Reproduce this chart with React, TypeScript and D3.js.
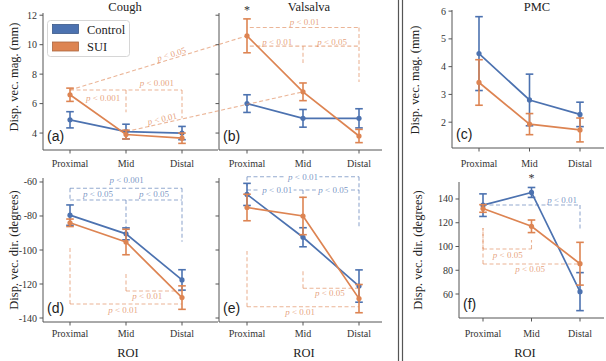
import React, { useEffect, useRef } from 'react';
import * as d3 from 'd3';

const rois = ['Proximal', 'Mid', 'Distal'];

// displacement vector magnitude (mm): mean and error per ROI
const coughMagControl = [4.9, 4.1, 4.0];
const coughMagControlErr = [0.55, 0.5, 0.45];
const coughMagSUI = [6.6, 3.9, 3.65];
const coughMagSUIErr = [0.45, 0.3, 0.35];
const valsalvaMagControl = [6.0, 5.0, 5.0];
const valsalvaMagControlErr = [0.6, 0.6, 0.65];
const valsalvaMagSUI = [10.6, 6.8, 3.8];
const valsalvaMagSUIErr = [1.15, 0.6, 0.45];
const pmcMagControl = [4.47, 2.8, 2.28];
const pmcMagControlErr = [1.33, 0.93, 0.44];
const pmcMagSUI = [3.43, 1.93, 1.72];
const pmcMagSUIErr = [0.82, 0.38, 0.43];

// displacement vector direction (degrees)
const coughDirControl = [-79.5, -90.5, -117.6];
const coughDirControlErr = [6, 3.5, 6];
const coughDirSUI = [-84, -95.3, -128];
const coughDirSUIErr = [2.2, 7.5, 6.9];
const valsalvaDirControl = [-67.3, -92.5, -121.2];
const valsalvaDirControlErr = [6.5, 5.6, 9.5];
const valsalvaDirSUI = [-75, -80, -128.6];
const valsalvaDirSUIErr = [7.8, 11, 8.3];
const pmcDirControl = [134.8, 145.5, 62];
const pmcDirControlErr = [9.5, 4.2, 16];
const pmcDirSUI = [132, 117, 85.5];
const pmcDirSUIErr = [3.2, 5.3, 18];

const magTicks = [4, 6, 8, 10, 12];
const pmcMagTicks = [2, 3, 4, 5, 6];
const dirTicks = [-140, -120, -100, -80, -60];
const pmcDirTicks = [60, 80, 100, 120, 140];

const BLUE = '#4C72B0';
const ORANGE = '#DD8452';
const SERIF = '"Liberation Serif", "DejaVu Serif", serif';
const SANS = '"Liberation Sans", Arial, sans-serif';

type Series = { mean: number[]; err: number[] };
type PLabel = { text: string; at: number; dy: number; inline?: boolean };
type Bracket = {
  group: 'control' | 'sui';
  level: number;
  from: number;
  to: number;
  legs: [number, number][];
  labels: PLabel[];
};
type Panel = {
  id: string;
  left: number;
  right: number;
  top: number;
  bottom: number;
  cats: [number, number];
  domain: [number, number];
  ticks: number[];
  tickLabels: boolean;
  control: Series;
  sui: Series;
  brackets: Bracket[];
  star?: number;
};

const panels: Panel[] = [
  {
    id: 'a', left: 43, right: 218, top: 13, bottom: 150, cats: [70, 182], domain: [2.85, 12.15],
    ticks: magTicks, tickLabels: true,
    control: { mean: coughMagControl, err: coughMagControlErr },
    sui: { mean: coughMagSUI, err: coughMagSUIErr },
    brackets: [
      { group: 'sui', level: 6.92, from: 0, to: 2, legs: [[1, 5.42], [2, 5.0]],
        labels: [{ text: '< 0.001', at: 1.55, dy: -7 }, { text: '< 0.001', at: 0.59, dy: 8 }] },
    ],
  },
  {
    id: 'b', left: 219, right: 382, top: 13, bottom: 150, cats: [247, 359], domain: [2.85, 12.15],
    ticks: magTicks, tickLabels: false,
    control: { mean: valsalvaMagControl, err: valsalvaMagControlErr },
    sui: { mean: valsalvaMagSUI, err: valsalvaMagSUIErr },
    star: 0,
    brackets: [
      { group: 'sui', level: 11.17, from: 0.05, to: 2, legs: [[2, 7.46]],
        labels: [{ text: '< 0.01', at: 1.03, dy: -5 }] },
      { group: 'sui', level: 9.9, from: 0.05, to: 2, legs: [[1, 8.75]],
        labels: [{ text: '< 0.01', at: 0.54, dy: -4.5 }, { text: '< 0.05', at: 1.52, dy: -4.5 }] },
    ],
  },
  {
    id: 'c', left: 452, right: 604, top: 10, bottom: 148, cats: [479, 580], domain: [1.07, 6.04],
    ticks: pmcMagTicks, tickLabels: true,
    control: { mean: pmcMagControl, err: pmcMagControlErr },
    sui: { mean: pmcMagSUI, err: pmcMagSUIErr },
    brackets: [],
  },
  {
    id: 'd', left: 43, right: 218, top: 178, bottom: 322, cats: [70, 182], domain: [-142.35, -57.65],
    ticks: dirTicks, tickLabels: true,
    control: { mean: coughDirControl, err: coughDirControlErr },
    sui: { mean: coughDirSUI, err: coughDirSUIErr },
    brackets: [
      { group: 'control', level: -63.7, from: 0, to: 2, legs: [[0, -70.6], [2, -95.1]],
        labels: [{ text: '< 0.001', at: 1.01, dy: -8 }] },
      { group: 'control', level: -70.6, from: 0, to: 2, legs: [[1, -87]],
        labels: [{ text: '< 0.05', at: 0.5, dy: -6 }, { text: '< 0.05', at: 1.5, dy: -6 }] },
      { group: 'sui', level: -131.8, from: 0, to: 2, legs: [[0, -98.8]],
        labels: [{ text: '< 0.01', at: 0.95, dy: 6 }] },
      { group: 'sui', level: -124.1, from: 1, to: 2, legs: [[1, -112.8]],
        labels: [{ text: '< 0.01', at: 1.38, dy: 5 }] },
    ],
  },
  {
    id: 'e', left: 219, right: 382, top: 178, bottom: 322, cats: [247, 359], domain: [-142.35, -57.65],
    ticks: dirTicks, tickLabels: false,
    control: { mean: valsalvaDirControl, err: valsalvaDirControlErr },
    sui: { mean: valsalvaDirSUI, err: valsalvaDirSUIErr },
    brackets: [
      { group: 'control', level: -56.9, from: 0, to: 2, legs: [[0, -62.5], [2, -86.9]],
        labels: [{ text: '< 0.01', at: 1.0, dy: 0, inline: true }] },
      { group: 'control', level: -64.7, from: 0, to: 2, legs: [[1, -69]],
        labels: [{ text: '< 0.01', at: 0.54, dy: 0, inline: true }, { text: '< 0.05', at: 1.54, dy: 0, inline: true }] },
      { group: 'sui', level: -133.4, from: 0, to: 2, legs: [[0, -100.6]],
        labels: [{ text: '< 0.01', at: 0.95, dy: 5.5 }] },
      { group: 'sui', level: -122.5, from: 1, to: 2, legs: [[1, -111.2]],
        labels: [{ text: '< 0.05', at: 1.48, dy: 5 }] },
    ],
  },
  {
    id: 'f', left: 459, right: 604, top: 182, bottom: 318, cats: [483, 580], domain: [39.8, 154.3],
    ticks: pmcDirTicks, tickLabels: true,
    control: { mean: pmcDirControl, err: pmcDirControlErr },
    sui: { mean: pmcDirSUI, err: pmcDirSUIErr },
    star: 1,
    brackets: [
      { group: 'control', level: 134.9, from: 0, to: 2, legs: [[2, 113.9]],
        labels: [{ text: '< 0.01', at: 1.63, dy: -5 }] },
      { group: 'sui', level: 97.9, from: 0, to: 1, legs: [[0, 115.6], [1, 105.5]],
        labels: [{ text: '< 0.05', at: 0.51, dy: 6 }] },
      { group: 'sui', level: 85.3, from: 0, to: 2, legs: [[0, 115.6]],
        labels: [{ text: '< 0.05', at: 0.97, dy: 5 }] },
    ],
  },
];

// Cough vs Valsalva comparisons, drawn across panels (a) and (b)
const crossLinks = [
  { from: { idx: 0, value: 6.92 }, to: { idx: 0, value: 10.6 }, text: '< 0.05', t: 0.58 },
  { from: { idx: 1, value: 4.1 }, to: { idx: 1, value: 6.8 }, text: '< 0.01', t: 0.21 },
];

const titles = [
  { text: 'Cough', x: 125, y: 11 },
  { text: 'Valsalva', x: 309, y: 11 },
  { text: 'PMC', x: 537, y: 11 },
];

const W = 606;
const H = 361;

export default function App() {
  const ref = useRef<SVGSVGElement>(null);

  useEffect(() => {
    if (!ref.current) return;
    const svg = d3.select(ref.current);
    svg.selectAll('*').remove();

    const scales: Record<string, { x: (i: number) => number; y: d3.ScaleLinear<number, number> }> = {};

    const pLabel = (g: any, x: number, y: number, text: string, color: string, inline = false) => {
      const t = g.append('text')
        .attr('x', x).attr('y', y + 3)
        .attr('text-anchor', 'middle')
        .attr('font-family', SERIF).attr('font-size', 9)
        .attr('fill', color).attr('fill-opacity', 0.75);
      t.append('tspan').attr('font-style', 'italic').text('p');
      t.append('tspan').text(' ' + text);
      if (inline) {
        const bb = (t.node() as SVGTextElement).getBBox();
        g.insert('rect', () => t.node())
          .attr('x', bb.x - 1.5).attr('y', y - 2).attr('width', bb.width + 3).attr('height', 4)
          .attr('fill', '#fff');
      }
      return t;
    };

    panels.forEach(p => {
      const g = svg.append('g');
      const xp = d3.scalePoint<string>().domain(rois).range(p.cats);
      const step = (p.cats[1] - p.cats[0]) / 2;
      const xi = (i: number) => p.cats[0] + i * step;
      const y = d3.scaleLinear().domain(p.domain).range([p.bottom, p.top]);
      scales[p.id] = { x: xi, y };

      // spines
      g.append('line').attr('x1', p.left).attr('x2', p.left).attr('y1', p.top).attr('y2', p.bottom)
        .attr('stroke', '#555').attr('stroke-width', 1);
      g.append('line').attr('x1', p.left).attr('x2', p.right).attr('y1', p.bottom).attr('y2', p.bottom)
        .attr('stroke', '#555').attr('stroke-width', 1);

      p.ticks.forEach(v => {
        g.append('line').attr('x1', p.left - 3.5).attr('x2', p.left).attr('y1', y(v)).attr('y2', y(v))
          .attr('stroke', '#555');
        if (p.tickLabels) {
          g.append('text').attr('x', p.left - 6).attr('y', y(v) + 3.5)
            .attr('text-anchor', 'end').attr('font-family', SERIF).attr('font-size', 10)
            .attr('fill', '#333').text(String(v));
        }
      });
      const rowLabelY = p.top < 100 ? 166.5 : 337;
      rois.forEach(r => {
        const x = xp(r)!;
        g.append('line').attr('x1', x).attr('x2', x).attr('y1', p.bottom).attr('y2', p.bottom + 3.5)
          .attr('stroke', '#555');
        g.append('text').attr('x', x).attr('y', rowLabelY).attr('text-anchor', 'middle')
          .attr('font-family', SERIF).attr('font-size', 10).attr('fill', '#333').text(r);
      });

      // significance brackets
      p.brackets.forEach(b => {
        const color = b.group === 'control' ? BLUE : ORANGE;
        const ly = y(b.level);
        const bg = g.append('g');
        const dash = (x1: number, y1: number, x2: number, y2: number) =>
          bg.append('line').attr('x1', x1).attr('y1', y1).attr('x2', x2).attr('y2', y2)
            .attr('stroke', color).attr('stroke-opacity', 0.6).attr('stroke-width', 1.1)
            .attr('stroke-dasharray', '4,2.5');
        dash(xi(b.from), ly, xi(b.to), ly);
        b.legs.forEach(([i, v]) => dash(xi(i), ly, xi(i), y(v)));
        b.labels.forEach(l => pLabel(bg, xi(l.at), ly + l.dy, l.text, color, l.inline));
      });

      const drawSeries = (s: Series, color: string) => {
        const line = d3.line<number>().x((_, i) => xp(rois[i])!).y(d => y(d));
        g.append('path').attr('d', line(s.mean)).attr('fill', 'none')
          .attr('stroke', color).attr('stroke-width', 1.7);
        s.mean.forEach((m, i) => {
          const cx = xp(rois[i])!;
          const y1 = y(m + s.err[i]);
          const y2 = y(m - s.err[i]);
          g.append('line').attr('x1', cx).attr('x2', cx).attr('y1', y1).attr('y2', y2)
            .attr('stroke', color).attr('stroke-width', 1.6);
          [y1, y2].forEach(cy => g.append('line').attr('x1', cx - 3.8).attr('x2', cx + 3.8)
            .attr('y1', cy).attr('y2', cy).attr('stroke', color).attr('stroke-width', 1.6));
          g.append('circle').attr('cx', cx).attr('cy', y(m)).attr('r', 2.6).attr('fill', color);
        });
      };
      drawSeries(p.control, BLUE);
      drawSeries(p.sui, ORANGE);

      if (p.star !== undefined) {
        const i = p.star;
        const top = Math.max(p.control.mean[i] + p.control.err[i], p.sui.mean[i] + p.sui.err[i]);
        g.append('text').attr('x', xi(i)).attr('y', y(top) - 5).attr('text-anchor', 'middle')
          .attr('font-family', SERIF).attr('font-size', 12).attr('fill', '#333').text('*');
      }

      g.append('text').attr('x', p.left + 4).attr('y', p.bottom - 9)
        .attr('font-family', SANS).attr('font-size', 14).attr('fill', '#222').text(`(${p.id})`);
    });

    // cross-panel comparison lines between Cough and Valsalva
    const sa = scales['a'];
    const sb = scales['b'];
    crossLinks.forEach(c => {
      const x1 = sa.x(c.from.idx), y1 = sa.y(c.from.value);
      const x2 = sb.x(c.to.idx), y2 = sb.y(c.to.value);
      svg.append('line').attr('x1', x1).attr('y1', y1).attr('x2', x2).attr('y2', y2)
        .attr('stroke', ORANGE).attr('stroke-opacity', 0.6).attr('stroke-width', 1.1)
        .attr('stroke-dasharray', '4,2.5');
      const ang = Math.atan2(y2 - y1, x2 - x1);
      const px = x1 + c.t * (x2 - x1) + 4.5 * Math.sin(ang);
      const py = y1 + c.t * (y2 - y1) - 4.5 * Math.cos(ang);
      const tg = svg.append('g').attr('transform', `translate(${px},${py}) rotate(${(ang * 180) / Math.PI})`);
      pLabel(tg, 0, 0, c.text, ORANGE);
    });

    titles.forEach(t => {
      svg.append('text').attr('x', t.x).attr('y', t.y).attr('text-anchor', 'middle')
        .attr('font-family', SERIF).attr('font-size', 12.5).attr('fill', '#222').text(t.text);
    });

    const yLabels = [
      { text: 'Disp. vec. mag. (mm)', x: 14, y: 77 },
      { text: 'Disp. vec. mag. (mm)', x: 415, y: 80 },
      { text: 'Disp. vec. dir. (degrees)', x: 14, y: 250 },
      { text: 'Disp. vec. dir. (degrees)', x: 418, y: 250 },
    ];
    yLabels.forEach(l => {
      svg.append('text').attr('transform', `translate(${l.x + 4},${l.y}) rotate(-90)`)
        .attr('text-anchor', 'middle').attr('font-family', SERIF).attr('font-size', 12.5)
        .attr('fill', '#222').text(l.text);
    });
    [128, 304, 525].forEach(x => {
      svg.append('text').attr('x', x).attr('y', 357).attr('text-anchor', 'middle')
        .attr('font-family', SERIF).attr('font-size', 12.5).attr('fill', '#222').text('ROI');
    });

    // legend
    const lg = svg.append('g');
    lg.append('rect').attr('x', 47.5).attr('y', 20.5).attr('width', 82).attr('height', 36).attr('rx', 3)
      .attr('fill', '#fff').attr('fill-opacity', 0.85).attr('stroke', '#d6d6d6');
    [
      { name: 'Control', color: BLUE, y: 24.5 },
      { name: 'SUI', color: ORANGE, y: 42 },
    ].forEach(d => {
      lg.append('rect').attr('x', 52.5).attr('y', d.y).attr('width', 26).attr('height', 9)
        .attr('fill', d.color).attr('stroke', d3.color(d.color)!.darker(0.7).toString()).attr('stroke-width', 0.8);
      lg.append('text').attr('x', 87).attr('y', d.y + 9).attr('font-family', SERIF).attr('font-size', 12.5)
        .attr('fill', '#222').text(d.name);
    });

    // double rule separating PMC from the straining tasks
    [398.5, 402.5].forEach(x => {
      svg.append('line').attr('x1', x).attr('x2', x).attr('y1', 0).attr('y2', H)
        .attr('stroke', '#555').attr('stroke-width', 1.2);
    });
  }, []);

  return (
    <svg
      ref={ref}
      width={W}
      height={H}
      viewBox={`0 0 ${W} ${H}`}
      style={{ position: 'absolute', left: 0, top: 0, background: '#fff' }}
    />
  );
}
